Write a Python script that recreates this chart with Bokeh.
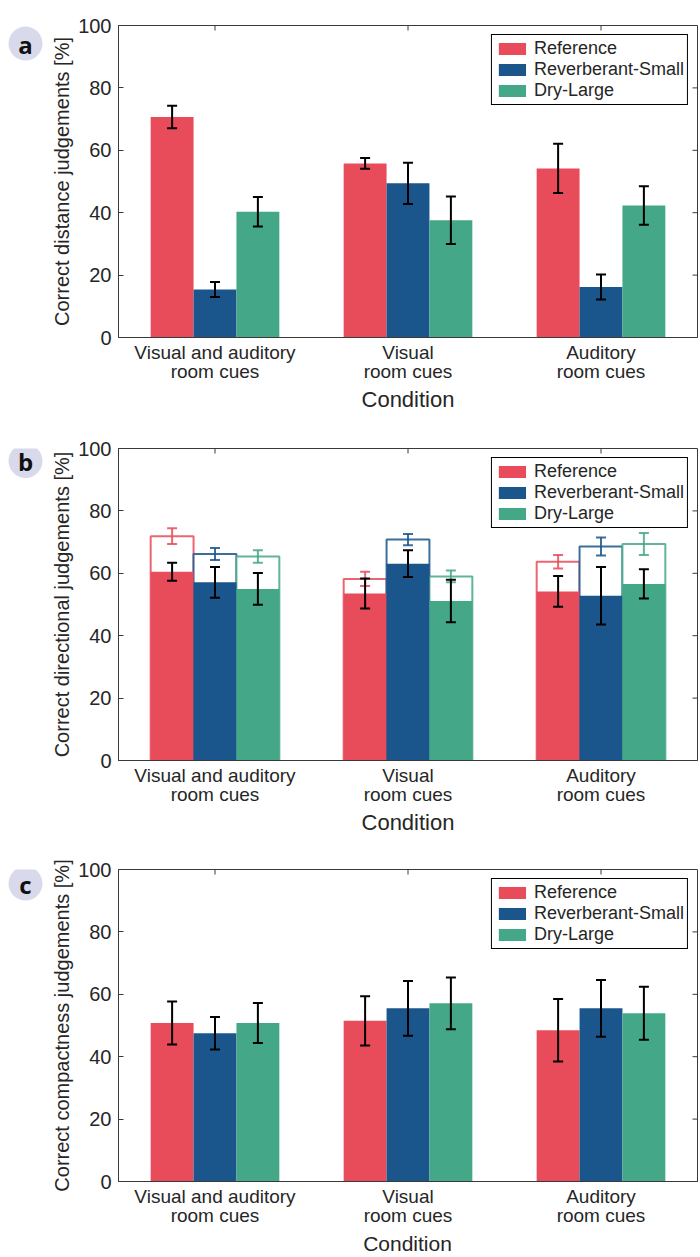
import math
from bokeh.plotting import figure
from bokeh.models import (ColumnDataSource, Whisker, TeeHead, Legend, LegendItem,
                          FixedTicker, Range1d)
from bokeh.layouts import column, row
from bokeh.embed import file_html
from bokeh.resources import INLINE
from bokeh.core.properties import value

# ---------------- data ----------------
conditions = ["Visual and auditory\nroom cues", "Visual\nroom cues", "Auditory\nroom cues"]
series = ["Reference", "Reverberant-Small", "Dry-Large"]
colors = ["#E84B5A", "#1A558B", "#43A788"]
y_ticks = [0, 20, 40, 60, 80, 100]
x_label = "Condition"

# panel a: distance judgements (mean, error)
distance_reference = [70.7, 55.8, 54.2]
distance_reference_err = [3.6, 1.7, 7.9]
distance_reverberant = [15.4, 49.4, 16.2]
distance_reverberant_err = [2.4, 6.6, 4.0]
distance_dry = [40.3, 37.6, 42.3]
distance_dry_err = [4.7, 7.6, 6.2]

# panel b: directional judgements, strict (filled) and lenient (outlined)
direction_reference = [60.5, 53.5, 54.2]
direction_reference_err = [2.9, 4.8, 4.9]
direction_reverberant = [57.1, 63.1, 52.8]
direction_reverberant_err = [4.9, 4.3, 9.2]
direction_dry = [55.0, 51.1, 56.6]
direction_dry_err = [5.1, 6.8, 4.7]
direction_reference_outer = [71.9, 58.2, 63.7]
direction_reference_outer_err = [2.5, 2.3, 2.2]
direction_reverberant_outer = [66.2, 70.8, 68.6]
direction_reverberant_outer_err = [1.9, 1.8, 2.9]
direction_dry_outer = [65.4, 59.0, 69.4]
direction_dry_outer_err = [2.0, 1.9, 3.5]

# panel c: compactness judgements
compact_reference = [50.8, 51.5, 48.5]
compact_reference_err = [6.9, 7.9, 10.0]
compact_reverberant = [47.5, 55.5, 55.5]
compact_reverberant_err = [5.2, 8.8, 9.1]
compact_dry = [50.8, 57.1, 53.9]
compact_dry_err = [6.4, 8.3, 8.5]

# ---------------- styling ----------------
FONT = "Liberation Sans"
TXT = "#262626"
AX = "#3a3a3a"
BW = 2.0 / 9.0
BADGE_W = 48
MAIN_W = 652


def badge_fig(letter, height, cy_from_top):
    b = figure(width=BADGE_W, height=height, x_range=Range1d(0, BADGE_W),
               y_range=Range1d(0, height), output_backend="svg", toolbar_location=None,
               x_axis_type=None, y_axis_type=None, min_border=0,
               min_border_left=0, min_border_right=0, min_border_top=0, min_border_bottom=0)
    b.outline_line_color = None
    b.xgrid.visible = False
    b.ygrid.visible = False
    b.scatter(x=[25], y=[height - cy_from_top], size=34, marker="circle",
              fill_color="#D9D9EC", line_color=None)
    b.text(x=[25], y=[height - cy_from_top - 1], text=[letter], text_align="center",
           text_baseline="middle", text_font=value("Open Sans"), text_font_style="bold",
           text_font_size="24px", text_color="#111111")
    return b


def make_panel(ylabel, height, top_border, bottom_border, means, errs,
               outer=None, outer_errs=None, show_xlabel=True):
    p = figure(width=MAIN_W, height=height, x_range=Range1d(0.5, 3.5), y_range=Range1d(0, 100),
               output_backend="svg", toolbar_location=None,
               min_border_left=69, min_border_right=3, min_border_top=top_border,
               min_border_bottom=bottom_border)
    p.xgrid.visible = False
    p.ygrid.visible = False
    p.outline_line_color = AX
    p.outline_line_width = 1

    # left axis
    ya = p.yaxis[0]
    ya.ticker = FixedTicker(ticks=y_ticks)
    ya.axis_label = ylabel
    ya.axis_label_text_font = FONT
    ya.axis_label_text_font_size = "20px"
    ya.axis_label_text_font_style = "normal"
    ya.axis_label_text_color = TXT
    ya.axis_label_standoff = 2
    ya.major_label_text_font = FONT
    ya.major_label_text_font_size = "20px"
    ya.major_label_text_color = TXT
    ya.major_label_standoff = 7
    ya.major_tick_in = 5
    ya.major_tick_out = 0
    ya.minor_tick_line_color = None
    ya.axis_line_color = AX
    ya.major_tick_line_color = AX

    # bottom axis
    xa = p.xaxis[0]
    xa.ticker = FixedTicker(ticks=[1, 2, 3])
    xa.major_label_overrides = {i + 1: c for i, c in enumerate(conditions)}
    xa.major_label_text_font = FONT
    xa.major_label_text_font_size = "19px"
    xa.major_label_text_color = TXT
    xa.major_label_text_line_height = 0.95
    xa.major_label_standoff = -2
    xa.major_tick_line_color = None
    xa.minor_tick_line_color = None
    xa.axis_line_color = AX
    if show_xlabel:
        xa.axis_label = x_label
        xa.axis_label_text_font = FONT
        xa.axis_label_text_font_size = "22px"
        xa.axis_label_text_font_style = "normal"
        xa.axis_label_text_color = TXT
        xa.axis_label_standoff = 2

    # mirrored inward ticks (right and top)
    p.ray(x=[3.5] * 4, y=y_ticks[1:5], length=5, angle=math.pi, length_units="screen",
          line_color=AX, line_width=1)
    p.ray(x=[1, 2, 3], y=[100] * 3, length=5, angle=-math.pi / 2, length_units="screen",
          line_color=AX, line_width=1)

    items = []
    whiskers = []
    if outer is not None:
        for k in range(3):
            xs = [i + 1 + (k - 1) * BW for i in range(3)]
            src = ColumnDataSource(dict(x=xs, top=outer[k],
                                        upper=[m + e for m, e in zip(outer[k], outer_errs[k])],
                                        lower=[m - e for m, e in zip(outer[k], outer_errs[k])]))
            p.vbar(x="x", top="top", bottom=0, width=BW, source=src,
                   fill_color="white", line_color=colors[k], line_width=2, line_alpha=0.85)
            whiskers.append(Whisker(source=src, base="x", upper="upper", lower="lower",
                                    dimension="height", line_color=colors[k], line_width=2,
                                    line_alpha=0.85, level="annotation",
                                    upper_head=TeeHead(size=10, line_color=colors[k], line_width=2, line_alpha=0.85),
                                    lower_head=TeeHead(size=10, line_color=colors[k], line_width=2, line_alpha=0.85)))
    black = []
    for k in range(3):
        xs = [i + 1 + (k - 1) * BW for i in range(3)]
        src = ColumnDataSource(dict(x=xs, top=means[k],
                                    upper=[m + e for m, e in zip(means[k], errs[k])],
                                    lower=[m - e for m, e in zip(means[k], errs[k])]))
        r = p.vbar(x="x", top="top", bottom=0, width=BW, source=src,
                   fill_color=colors[k], line_color=None)
        items.append(LegendItem(label=series[k], renderers=[r]))
        black.append(Whisker(source=src, base="x", upper="upper", lower="lower",
                             dimension="height", line_color="black", line_width=2,
                             level="annotation",
                             upper_head=TeeHead(size=10, line_color="black", line_width=2),
                             lower_head=TeeHead(size=10, line_color="black", line_width=2)))
    for w in whiskers + black:
        p.add_layout(w)

    legend = Legend(items=items, location="top_right", margin=9,
                    border_line_color="black", border_line_width=1, border_line_alpha=1,
                    background_fill_color="white", background_fill_alpha=1,
                    padding=3, spacing=0, glyph_width=34, glyph_height=15,
                    label_height=20, label_standoff=5,
                    label_text_font=FONT, label_text_font_size="18px",
                    label_text_line_height=1.0, label_text_color=TXT)
    p.add_layout(legend)
    return p


H1, H2 = 431, 421
H3 = 17 + 312 + 52
FOOT = 1257 - H1 - H2 - H3

pa = make_panel("Correct distance judgements [%]", H1, 25, 94,
                [distance_reference, distance_reverberant, distance_dry],
                [distance_reference_err, distance_reverberant_err, distance_dry_err])
pb = make_panel("Correct directional judgements [%]", H2, 17, 92,
                [direction_reference, direction_reverberant, direction_dry],
                [direction_reference_err, direction_reverberant_err, direction_dry_err],
                outer=[direction_reference_outer, direction_reverberant_outer, direction_dry_outer],
                outer_errs=[direction_reference_outer_err, direction_reverberant_outer_err,
                            direction_dry_outer_err])
pc = make_panel("Correct compactness judgements [%]", H3, 17, 52,
                [compact_reference, compact_reverberant, compact_dry],
                [compact_reference_err, compact_reverberant_err, compact_dry_err],
                show_xlabel=False)

# footer carrying the last x-axis title
foot = figure(width=BADGE_W + MAIN_W, height=FOOT, x_range=Range1d(0, BADGE_W + MAIN_W),
              y_range=Range1d(0, FOOT), output_backend="svg", toolbar_location=None,
              x_axis_type=None, y_axis_type=None, min_border=0, min_border_left=0,
              min_border_right=0, min_border_top=0, min_border_bottom=0)
foot.outline_line_color = None
foot.xgrid.visible = False
foot.ygrid.visible = False
foot.text(x=[117 + 290], y=[FOOT - 10], text=[x_label], text_align="center",
          text_baseline="middle", text_font=value(FONT), text_font_size="21px",
          text_color=TXT)

layout = column(
    row(badge_fig("a", H1, 25), pa, spacing=0),
    row(badge_fig("b", H2, 17), pb, spacing=0),
    row(badge_fig("c", H3, 17), pc, spacing=0),
    foot,
    spacing=0,
)
open("out.html", "w").write(file_html(layout, INLINE))
